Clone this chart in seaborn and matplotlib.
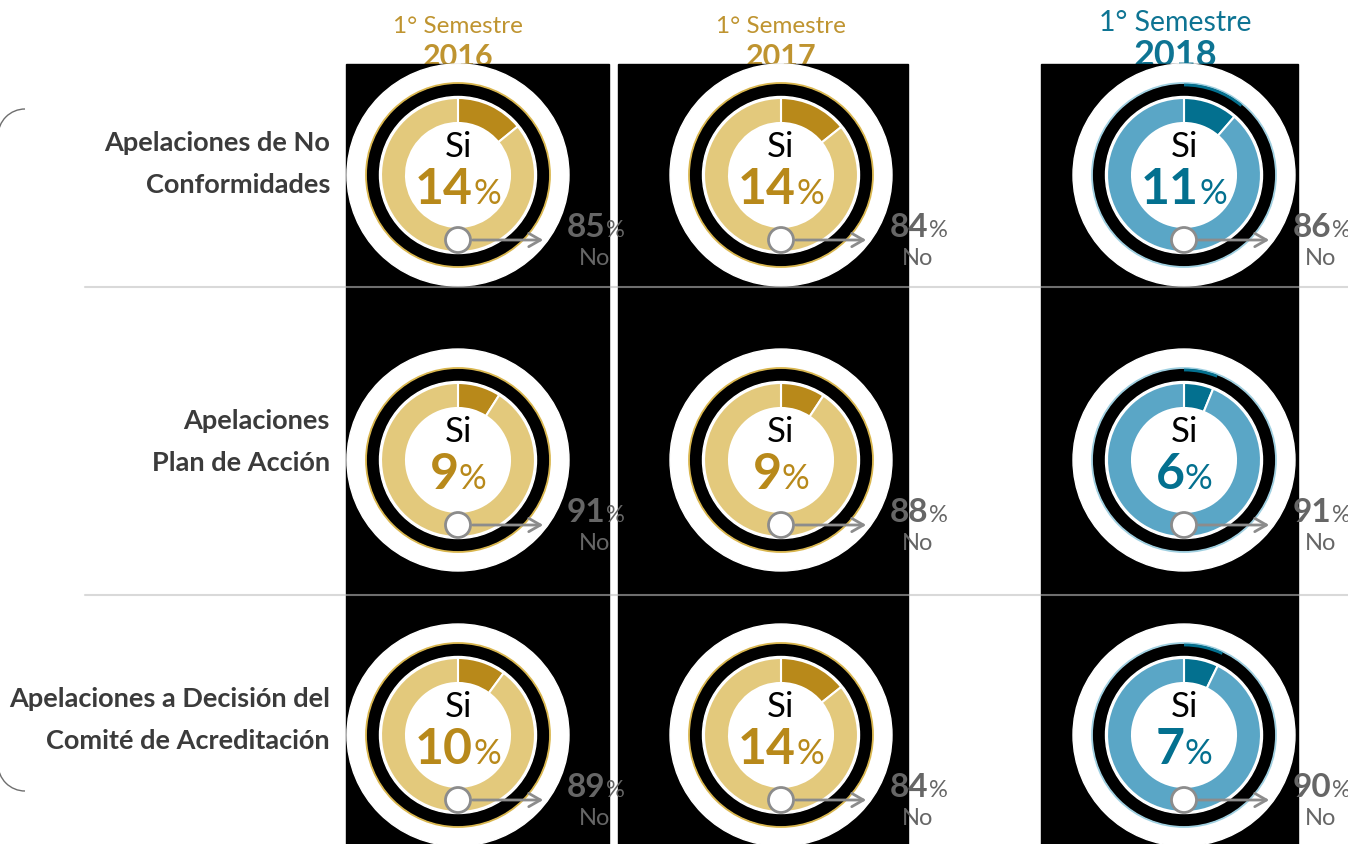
import numpy as np
import matplotlib.pyplot as plt
import seaborn as sns
from matplotlib.patches import Circle, Rectangle, Arc

## Data
semester = '1° Semestre'
years = ['2016', '2017', '2018']
row_labels = [['Apelaciones de No', 'Conformidades'],
              ['Apelaciones', 'Plan de Acción'],
              ['Apelaciones a Decisión del', 'Comité de Acreditación']]
si_pct = [[14, 14, 11],
          [9, 9, 6],
          [10, 14, 7]]
no_pct = [[85, 84, 86],
          [91, 88, 91],
          [89, 84, 90]]

## Colours per year: (dark, light, header, thin ring)
gold = ('#b8891a', '#e3c97c', '#bf9430', '#d9b64e')
teal = ('#03708f', '#5aa6c6', '#0e7493', '#9fcfe0')
year_colors = [gold, gold, teal]
gray_txt = '#666666'
label_col = '#3b3b3b'

sns.set_theme(style='white')
plt.rcParams['font.family'] = ['Lato', 'DejaVu Sans']

W, H = 1348, 845
fig = plt.figure(figsize=(W / 100, H / 100), dpi=100)
ax = fig.add_axes([0, 0, 1, 1])
renderer = fig.canvas.get_renderer()

# layout (pixels, image coords -> flipped with H - y)
col_x = [458, 781, 1184]
row_y = [176, 461, 736]
panels = [(346, 609), (618, 908), (1041, 1298)]


def two_part(x, y, num, s_num, s_pct, color, ha='center', z=10):
    t1 = ax.text(x, H - y, num, fontsize=s_num, fontweight='bold', color=color,
                 ha='left', va='baseline', zorder=z)
    t2 = ax.text(x, H - y, '%', fontsize=s_pct, color=color,
                 ha='left', va='baseline', zorder=z)
    w1 = t1.get_window_extent(renderer).width
    w2 = t2.get_window_extent(renderer).width
    start = x - (w1 + w2) / 2 if ha == 'center' else x
    t1.set_x(start)
    t2.set_x(start + w1)


# black panels behind the donuts
for x0, x1 in panels:
    ax.add_patch(Rectangle((x0, 0), x1 - x0, H - 65, color='black', zorder=1))

# column headers
for j, yr in enumerate(years):
    hc = year_colors[j][2]
    big = j == 2
    hx = col_x[j] - (9 if big else 0)
    ax.text(hx, H - (31 if big else 33), semester, fontsize=20.5 if big else 17.5,
            color=hc, ha='center', va='baseline', zorder=0)
    ax.text(hx, H - 66, yr, fontsize=26 if big else 22, fontweight='bold',
            color=hc, ha='center', va='baseline', zorder=0)

# donuts
for i in range(3):
    for j in range(3):
        cx, cy = col_x[j], H - row_y[i]
        dark, light, hc, thin = year_colors[j]
        ax.add_patch(Circle((cx, cy), 111, color='white', zorder=2))
        ax.add_patch(Circle((cx, cy), 91, color='black', zorder=3))
        ax.add_patch(Circle((cx, cy), 92, fill=False, ec=thin, lw=1.3, zorder=3))
        ax.add_patch(Circle((cx, cy), 78.5, color='white', zorder=3))
        if j == 2:
            ax.add_patch(Arc((cx, cy), 180, 180, theta1=90 - si_pct[i][j] * 3.6,
                             theta2=90, color=dark, lw=2, zorder=4))
        wedges, _ = ax.pie([si_pct[i][j], no_pct[i][j]], radius=77, center=(cx, cy),
                           startangle=90, counterclock=False, colors=[dark, light],
                           wedgeprops=dict(width=25, edgecolor='white', linewidth=1.5),
                           frame=True)
        for w in wedges:
            w.set_zorder(4)
        # centre labels
        ax.text(cx, cy + 19, 'Si', fontsize=25, color='black', ha='center',
                va='baseline', zorder=6)
        two_part(cx, row_y[i] + 28, str(si_pct[i][j]), 36, 25, dark, z=6)
        # marker + arrow to the "No" share
        my = cy - 65
        ax.annotate('', xy=(cx + 88, my), xytext=(cx + 12, my),
                    arrowprops=dict(arrowstyle='->,head_length=0.7,head_width=0.4',
                                    color='#8c8c8c', lw=2), zorder=6)
        ax.add_patch(Circle((cx, my), 12.5, fc='white', ec='#8c8c8c', lw=2, zorder=7))
        two_part(cx + 109, row_y[i] + 61, str(no_pct[i][j]), 24, 17, gray_txt, ha='left', z=8)
        ax.text(cx + 137, H - (row_y[i] + 89), 'No', fontsize=17, color=gray_txt,
                ha='center', va='baseline', zorder=8)

# row labels
label_base = [(151, 193), (429, 471), (707, 749)]
for i, lines in enumerate(row_labels):
    for line, yb in zip(lines, label_base[i]):
        ax.text(330, H - yb, line, fontsize=19.5, fontweight='bold', color=label_col,
                ha='right', va='baseline')

# separators
for ys in [288, 596]:
    ax.plot([85, W], [H - ys, H - ys], color='0.745', alpha=0.58, lw=1.5, zorder=9)

# bracket corners on the left edge
ax.add_patch(Arc((25, H - 137), 54, 54, theta1=90, theta2=180, color='#6e6e6e', lw=1))
ax.add_patch(Arc((25, H - 765), 54, 54, theta1=180, theta2=270, color='#6e6e6e', lw=1))

ax.set_xlim(0, W)
ax.set_ylim(0, H)
ax.set_aspect('auto')
ax.axis('off')
fig.savefig('out.png', dpi=100)
